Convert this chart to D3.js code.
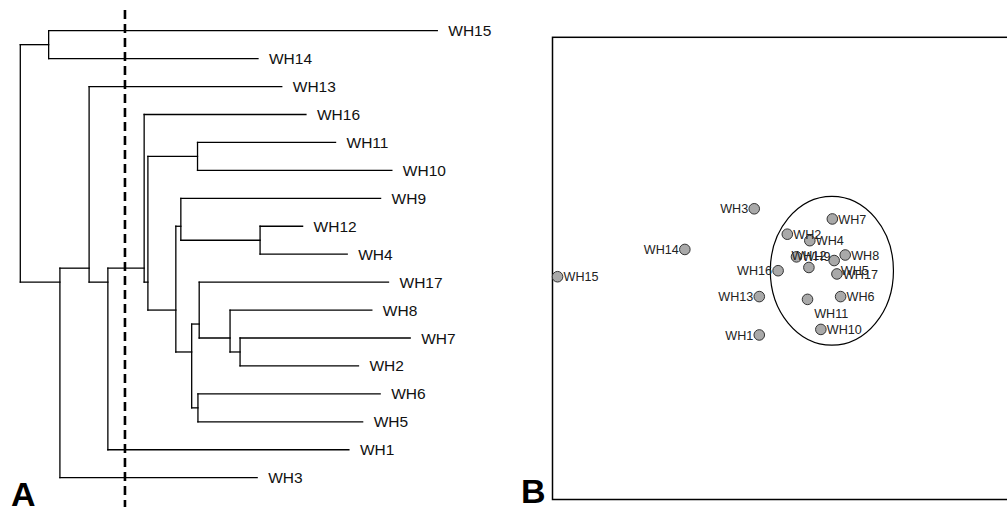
<!DOCTYPE html>
<html>
<head>
<meta charset="utf-8">
<script src="https://cdn.jsdelivr.net/npm/d3@7"></script>
<style>
  html, body { margin: 0; padding: 0; background: #fff; }
  svg { display: block; }
  text { font-family: "Liberation Sans", Arial, sans-serif; }
</style>
</head>
<body>
<svg id="chart" width="1007" height="507"></svg>
<script>
// ---------- Panel A: dendrogram data ----------
const leaves = ["WH15","WH14","WH13","WH16","WH11","WH10","WH9","WH12","WH4","WH17","WH8","WH7","WH2","WH6","WH5","WH1","WH3"];
const leafParents = ["P","P","B","D","F","F","H","J","J","K","M","N","N","L","L","C","A"];
const leafDepths = [100, 57.0, 62.7, 68.5, 75.6, 89.1, 86.4, 67.7, 78.4, 88.3, 84.3, 93.5, 81.1, 86.3, 82.1, 78.8, 56.8];
const nodes = ["root","P","A","B","C","D","E","F","G","H","J","I","K","M","N","L"];
const nodeParents = [null,"root","root","A","B","C","D","E","E","G","H","G","I","K","M","I"];
const nodeDepths = [0, 6.8, 9.5, 16.5, 21.0, 29.7, 30.6, 42.5, 37.3, 38.5, 57.5, 41.1, 42.9, 50.3, 52.7, 42.6];
const cutHeight = 25.1;

// ---------- Panel B: ordination data ----------
const samples = ["WH15","WH14","WH3","WH16","WH13","WH1","WH2","WH4","WH7","WH9","WH12","WH5","WH8","WH17","WH6","WH11","WH10"];
const dim1 = [-48.9, -21.2, -6.1, -0.9, -5.0, -5.0, 1.1, 6.0, 10.9, 3.1, 5.8, 11.3, 13.7, 11.9, 12.7, 5.5, 8.4];
const dim2 = [-1.8, 4.1, 12.9, -0.5, -6.1, -14.4, 7.4, 6.0, 10.7, 2.5, 0.2, 1.7, 2.9, -1.2, -6.1, -6.7, -13.2];
const labelPlace = ["right","left","left","left","left","left","right","right","right","right","above","belowright","right","right","right","below","right"];
const groupEllipse = { cx: 10.8, cy: -0.5, rx: 13.4, ry: 16.1 };

const svg = d3.select("#chart");

// ---------- Dendrogram ----------
const rows = nodes.map((id, i) => ({ id, parent: nodeParents[i], depth: nodeDepths[i] }))
  .concat(leaves.map((id, i) => ({ id, parent: leafParents[i], depth: leafDepths[i], leaf: true })));
const root = d3.stratify().id(d => d.id).parentId(d => d.parent)(rows);

const xA = d3.scaleLinear().domain([0, 100]).range([20.3, 437.3]);
const yA = d3.scalePoint().domain(leaves).range([30.7, 477.7]);

// order children by leaf order
const leafIndex = new Map(leaves.map((l, i) => [l, i]));
root.eachAfter(n => {
  if (n.children) {
    n.children.sort((a, b) => d3.min(a.leaves(), l => leafIndex.get(l.id)) - d3.min(b.leaves(), l => leafIndex.get(l.id)));
    n.yPos = d3.mean(n.leaves(), l => yA(l.id));
  } else {
    n.yPos = yA(n.id);
  }
  n.xPos = xA(n.data.depth);
});

const gA = svg.append("g");
const segs = [];
root.each(n => {
  if (n.parent) segs.push([n.parent.xPos, n.yPos, n.xPos, n.yPos]);
  if (n.children) {
    const ys = n.children.map(c => c.yPos);
    segs.push([n.xPos, d3.min(ys), n.xPos, d3.max(ys)]);
  }
});
gA.selectAll("line.branch").data(segs).join("line")
  .attr("class", "branch")
  .attr("x1", d => d[0]).attr("y1", d => d[1])
  .attr("x2", d => d[2]).attr("y2", d => d[3])
  .attr("stroke", "#000").attr("stroke-width", 1.3)
  .attr("stroke-linecap", "square");

gA.selectAll("text.leaf").data(root.leaves()).join("text")
  .attr("class", "leaf")
  .attr("x", d => d.xPos + 11)
  .attr("y", d => d.yPos + 5.5)
  .attr("font-size", 15.5)
  .attr("fill", "#111")
  .text(d => d.id);

gA.append("line")
  .attr("x1", xA(cutHeight)).attr("x2", xA(cutHeight))
  .attr("y1", 10).attr("y2", 507)
  .attr("stroke", "#000").attr("stroke-width", 2.6)
  .attr("stroke-dasharray", "9,5");

gA.append("text").attr("x", 11).attr("y", 506)
  .attr("font-size", 34).attr("font-weight", "bold").attr("fill", "#000").text("A");

// ---------- Ordination plot ----------
const gB = svg.append("g");
const xB = d3.scaleLinear().domain([-50, 50]).range([552.5, 1012]);
const yB = d3.scaleLinear().domain([-50, 50]).range([499.5, 37.3]);

gB.append("rect")
  .attr("x", xB(-50)).attr("y", yB(50))
  .attr("width", xB(50) - xB(-50) + 10).attr("height", yB(-50) - yB(50))
  .attr("fill", "none").attr("stroke", "#000").attr("stroke-width", 1.5);

gB.append("ellipse")
  .attr("cx", xB(groupEllipse.cx)).attr("cy", yB(groupEllipse.cy))
  .attr("rx", xB(groupEllipse.rx) - xB(0)).attr("ry", yB(0) - yB(groupEllipse.ry))
  .attr("fill", "none").attr("stroke", "#000").attr("stroke-width", 1.2);

const pts = samples.map((s, i) => ({ name: s, x: dim1[i], y: dim2[i], place: labelPlace[i] }));
const offsets = {
  right: [6, 4.6, "start"],
  left: [-6, 4.6, "end"],
  above: [0, -7.3, "middle"],
  belowright: [6.7, 14.3, "start"],
  below: [6.7, 19, "start"]
};

gB.selectAll("circle.pt").data(pts).join("circle")
  .attr("class", "pt")
  .attr("cx", d => xB(d.x)).attr("cy", d => yB(d.y))
  .attr("r", 5.3)
  .attr("fill", "#a9a9a9").attr("stroke", "#333").attr("stroke-width", 1);

gB.selectAll("text.lbl").data(pts).join("text")
  .attr("class", "lbl")
  .attr("x", d => xB(d.x) + offsets[d.place][0])
  .attr("y", d => yB(d.y) + offsets[d.place][1])
  .attr("text-anchor", d => offsets[d.place][2])
  .attr("font-size", 12.6)
  .attr("fill", "#222")
  .text(d => d.name);

gB.append("text").attr("x", 521).attr("y", 503)
  .attr("font-size", 34).attr("font-weight", "bold").attr("fill", "#000").text("B");
</script>
</body>
</html>
